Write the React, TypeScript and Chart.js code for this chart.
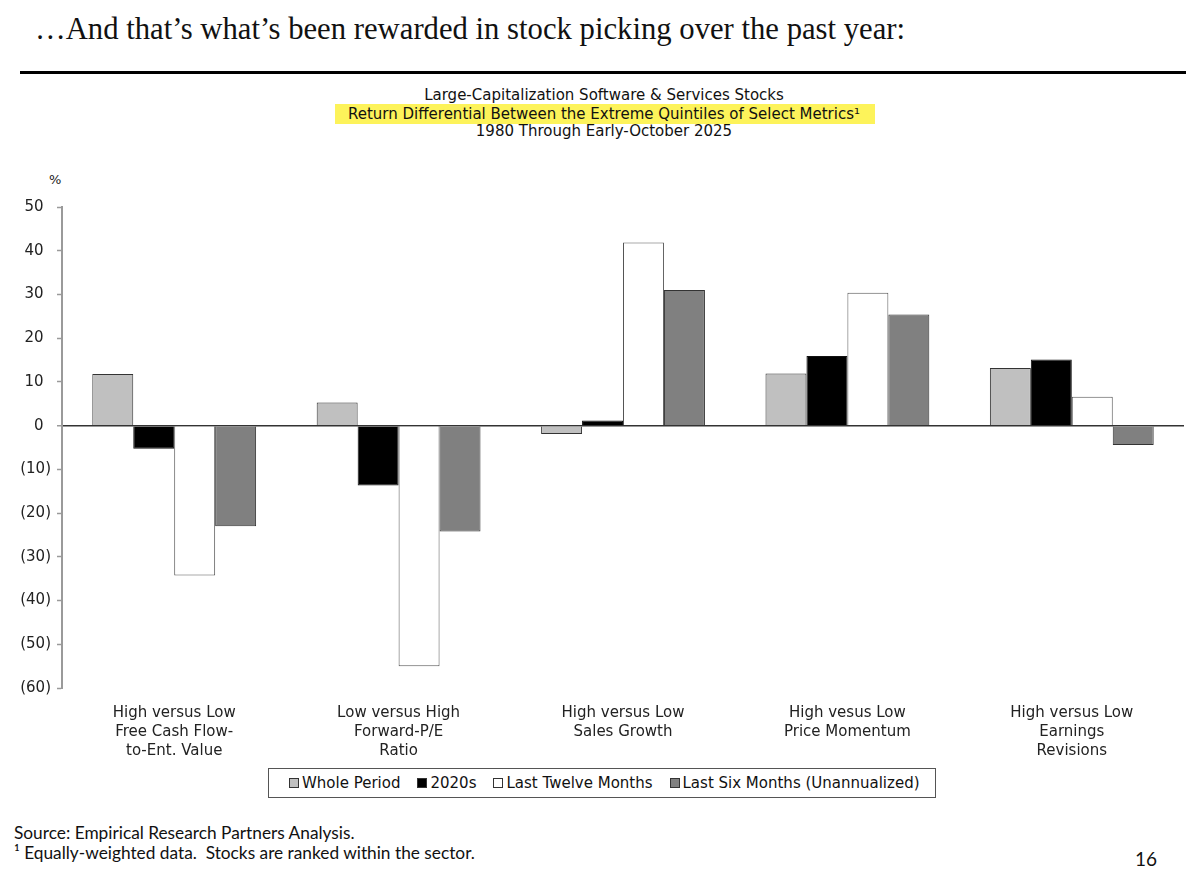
import React, { useEffect, useRef } from "react";
import { Chart, registerables } from "chart.js";

Chart.register(...registerables);

const categories: string[][] = [
  ["High versus Low", "Free Cash Flow-", "to-Ent. Value"],
  ["Low versus High", "Forward-P/E", "Ratio"],
  ["High versus Low", "Sales Growth"],
  ["High vesus Low", "Price Momentum"],
  ["High versus Low", "Earnings", "Revisions"],
];
const seriesNames = ["Whole Period", "2020s", "Last Twelve Months", "Last Six Months (Unannualized)"];
const wholePeriod = [11.8, 5.3, -1.9, 11.9, 13.2];
const twenties = [-5.3, -13.7, 1.2, 15.9, 15.1];
const lastTwelveMonths = [-34.3, -55.0, 41.9, 30.4, 6.6];
const lastSixMonths = [-23.0, -24.2, 31.0, 25.4, -4.4];
const yMin = -60;
const yMax = 50;
const yStep = 10;

const seriesColors = ["#c0c0c0", "#000000", "#ffffff", "#808080"];
const seriesBorders = ["#333333", "#111111", "#555555", "#333333"];

const SANS = "'DejaVu Sans', 'Noto Sans', sans-serif";
const FOOT = "Lato, 'Noto Sans', sans-serif";

function BarChart() {
  const ref = useRef<HTMLCanvasElement | null>(null);
  useEffect(() => {
    if (!ref.current) return;
    const data = [wholePeriod, twenties, lastTwelveMonths, lastSixMonths];
    const chart = new Chart(ref.current, {
      type: "bar",
      data: {
        labels: categories,
        datasets: seriesNames.map((name, i) => ({
          label: name,
          data: data[i],
          backgroundColor: seriesColors[i],
          borderColor: seriesBorders[i],
          borderWidth: 1,
          categoryPercentage: 0.73,
          barPercentage: 1,
        })),
      },
      options: {
        animation: false,
        responsive: false,
        maintainAspectRatio: false,
        layout: { padding: { left: 0, right: 16, top: 6, bottom: 0 } },
        plugins: { legend: { display: false }, tooltip: { enabled: false } },
        scales: {
          x: {
            grid: { display: false },
            border: { display: false },
            ticks: {
              color: "#222",
              font: { family: SANS, size: 15, lineHeight: 1.25 },
              padding: 8,
              maxRotation: 0,
              autoSkip: false,
            },
            afterFit: (s: any) => {
              s.height = 72;
            },
          },
          y: {
            min: yMin,
            max: yMax,
            border: { display: true, color: "#9a9a9a", width: 2 },
            grid: {
              drawOnChartArea: true,
              drawTicks: true,
              tickLength: 5,
              color: (ctx: any) => (ctx.tick && ctx.tick.value === 0 ? "#333" : "rgba(0,0,0,0)"),
              lineWidth: (ctx: any) => (ctx.tick && ctx.tick.value === 0 ? 1.5 : 1),
              tickColor: "#9a9a9a",
              tickWidth: 1.5,
            },
            ticks: {
              stepSize: yStep,
              color: "#222",
              font: { family: SANS, size: 15 },
              padding: 6,
              callback: (v: any) => (Number(v) < 0 ? `(${-Number(v)})` : `${v}\u2002`),
            },
            afterFit: (s: any) => {
              s.width = 62;
            },
          },
        },
      },
    });
    return () => chart.destroy();
  }, []);
  return (
    <canvas
      ref={ref}
      width={1200}
      height={568}
      style={{ position: "absolute", left: 0, top: 192, width: 1200, height: 568 }}
    />
  );
}

export default function App() {
  const abs = (s: React.CSSProperties): React.CSSProperties => ({ position: "absolute", ...s });
  return (
    <div style={{ position: "absolute", left: 0, top: 0, width: 1200, height: 880, background: "#fff", overflow: "hidden" }}>
      <div
        style={abs({
          left: 35,
          top: 12,
          fontFamily: "'Liberation Serif', 'DejaVu Serif', serif",
          fontSize: 30.7,
          lineHeight: "34px",
          color: "#111",
          whiteSpace: "nowrap",
        })}
      >
        …And that’s what’s been rewarded in stock picking over the past year:
      </div>
      <div style={abs({ left: 20, top: 71, width: 1166, height: 3, background: "#000" })} />

      <div style={abs({ left: 0, width: 1208, top: 86, textAlign: "center", fontFamily: SANS, fontSize: 15, lineHeight: "18px", color: "#111" })}>
        Large-Capitalization Software &amp; Services Stocks
      </div>
      <div style={abs({ left: 335, top: 104, width: 540, height: 20, background: "#fdf35a" })} />
      <div style={abs({ left: 0, width: 1208, top: 104, textAlign: "center", fontFamily: SANS, fontSize: 15, lineHeight: "20px", color: "#111" })}>
        Return Differential Between the Extreme Quintiles of Select Metrics¹
      </div>
      <div style={abs({ left: 0, width: 1208, top: 122, textAlign: "center", fontFamily: SANS, fontSize: 15, lineHeight: "18px", color: "#111" })}>
        1980 Through Early-October 2025
      </div>

      <div style={abs({ left: 49, top: 172, fontFamily: SANS, fontSize: 13, color: "#222" })}>%</div>

      <BarChart />

      <div
        style={abs({
          left: 268,
          top: 768,
          width: 668,
          height: 30,
          border: "1px solid #555",
          display: "flex",
          alignItems: "center",
          paddingLeft: 20,
          boxSizing: "border-box",
          fontFamily: SANS,
          fontSize: 15,
          color: "#111",
          whiteSpace: "nowrap",
        })}
      >
        {seriesNames.map((n, i) => (
          <div key={n} style={{ display: "flex", alignItems: "center", marginRight: i === 3 ? 0 : 17 }}>
            <span
              style={{
                display: "inline-block",
                width: 8,
                height: 8,
                background: seriesColors[i],
                border: "1px solid #333",
                marginRight: 3,
              }}
            />
            <span>{n}</span>
          </div>
        ))}
      </div>

      <div style={abs({ left: 14, top: 823, fontFamily: FOOT, fontSize: 17.3, lineHeight: "20px", color: "#111" })}>
        Source: Empirical Research Partners Analysis.
      </div>
      <div style={abs({ left: 14, top: 843, fontFamily: FOOT, fontSize: 17.3, lineHeight: "20px", color: "#111", whiteSpace: "pre" })}>
        {"¹ Equally-weighted data.  Stocks are ranked within the sector."}
      </div>
      <div style={abs({ left: 1135, top: 847, fontFamily: FOOT, fontSize: 19, color: "#111" })}>16</div>
    </div>
  );
}
